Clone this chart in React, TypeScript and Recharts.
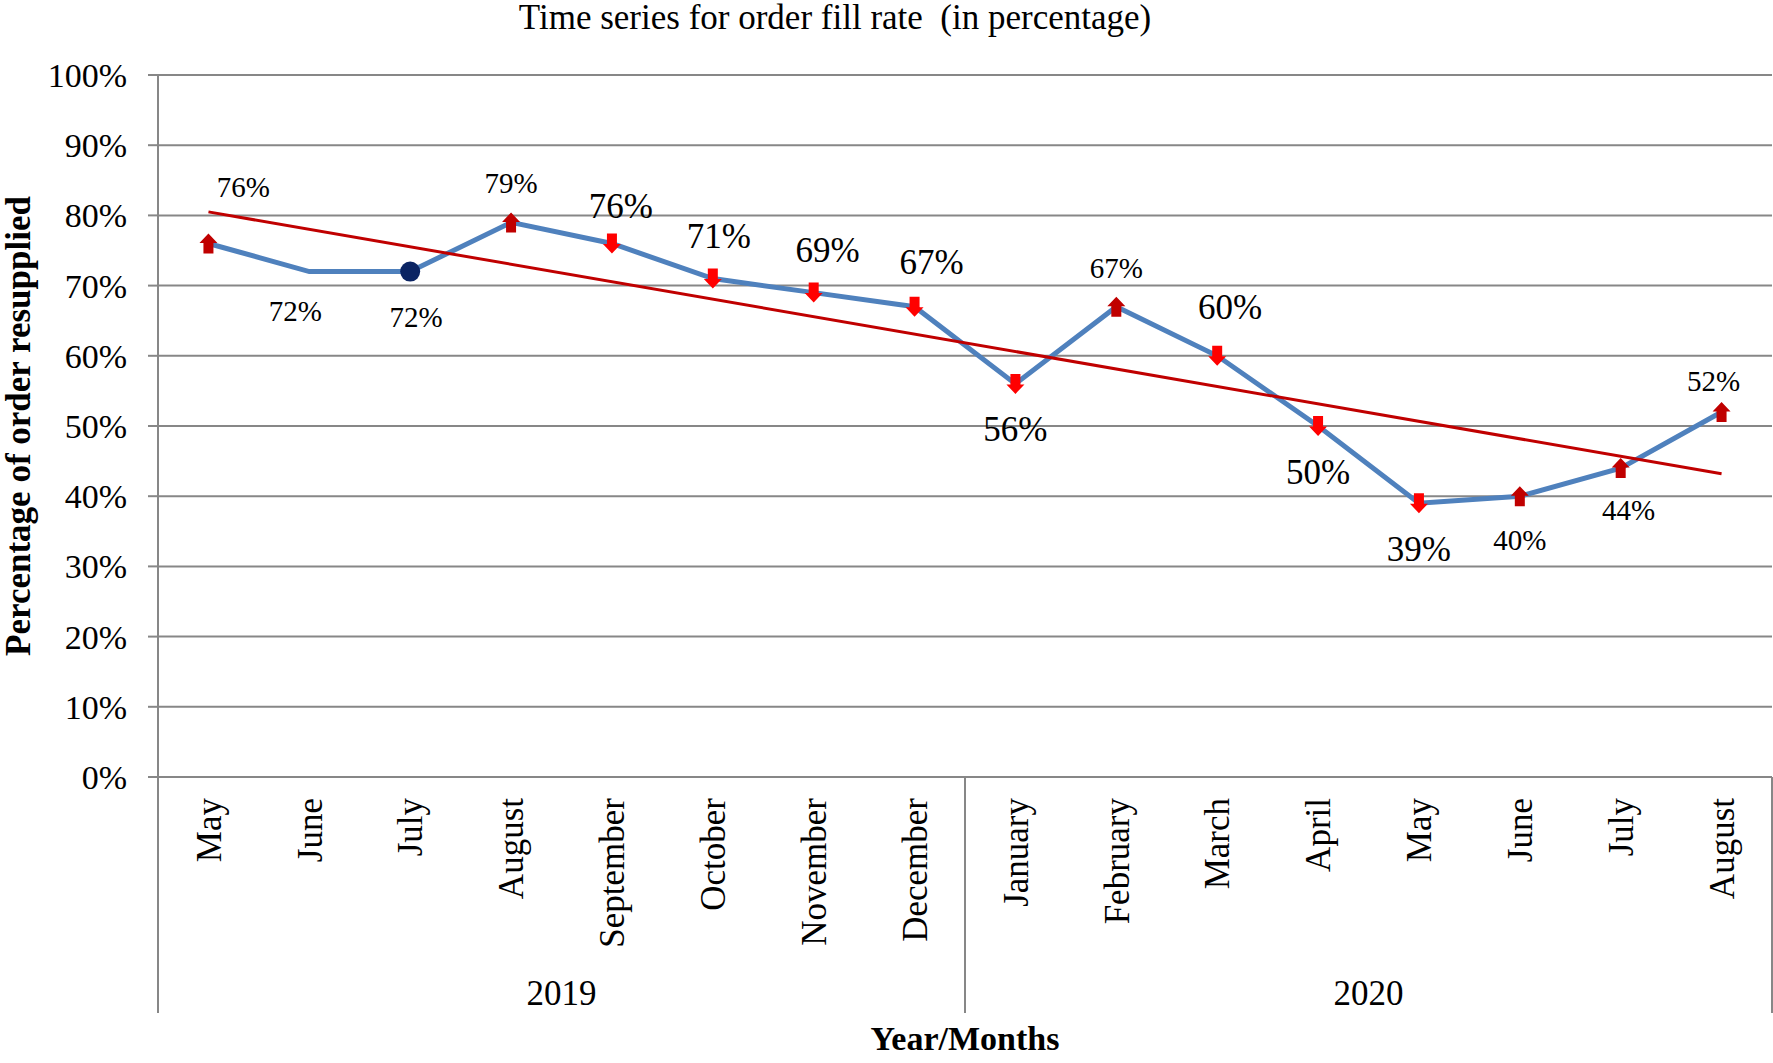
import { LineChart, Line, XAxis, YAxis, CartesianGrid } from "recharts";

const MONTHS = [
  "May", "June", "July", "August", "September", "October", "November", "December",
  "January", "February", "March", "April", "May", "June", "July", "August",
];
const YEARS = [
  "2019", "2019", "2019", "2019", "2019", "2019", "2019", "2019",
  "2020", "2020", "2020", "2020", "2020", "2020", "2020", "2020",
];
// order fill rate, %
const FILL_RATE = [76, 72, 72, 79, 76, 71, 69, 67, 56, 67, 60, 50, 39, 40, 44, 52];
// linear trend, read at its two ends
const TREND: (number | null)[] = [
  80.5, null, null, null, null, null, null, null,
  null, null, null, null, null, null, null, 43.2,
];
const Y_TICKS = [0, 10, 20, 30, 40, 50, 60, 70, 80, 90, 100];

const data = MONTHS.map((month, i) => ({
  month,
  year: YEARS[i],
  rate: FILL_RATE[i],
  trend: TREND[i],
}));

// layout
const W = 1773;
const H = 1063;
const LEFT = 158;
const RIGHT = 1;
const TOP = 75;
const X_AXIS_H = 286;
const BAND = (W - LEFT - RIGHT) / MONTHS.length;
const PLOT_BOTTOM = H - X_AXIS_H;
const DIVIDER_BOTTOM = 1013;
const SERIF = '"Liberation Serif", "Times New Roman", Times, serif';
const GRID = "#878787";

// marker style per point and where each value label sits
type Marker = "up" | "down" | "circle" | "none";
const MARKERS: Marker[] = [
  "up", "none", "circle", "up", "down", "down", "down", "down",
  "down", "up", "down", "down", "down", "up", "up", "up",
];
const LABELS = [
  { dx: 35, dy: -56, big: false },
  { dx: -14, dy: 40, big: false },
  { dx: 6, dy: 46, big: false },
  { dx: 0, dy: -39, big: false },
  { dx: 9, dy: -37, big: true },
  { dx: 6, dy: -42, big: true },
  { dx: 14, dy: -42, big: true },
  { dx: 17, dy: -44, big: true },
  { dx: 0, dy: 46, big: true },
  { dx: 0, dy: -38, big: false },
  { dx: 13, dy: -48, big: true },
  { dx: 0, dy: 46, big: true },
  { dx: 0, dy: 46, big: true },
  { dx: 0, dy: 44, big: false },
  { dx: 8, dy: 42, big: false },
  { dx: -8, dy: -31, big: false },
];

function arrow(cx: number, cy: number, dir: 1 | -1) {
  // dir 1 = pointing up
  const hw = 9, sw = 5, h = 10, neck = 0.5 * dir;
  const tip = cy - h * dir;
  const tail = cy + h * dir;
  return [
    [cx, tip],
    [cx + hw, cy - neck],
    [cx + sw, cy - neck],
    [cx + sw, tail],
    [cx - sw, tail],
    [cx - sw, cy - neck],
    [cx - hw, cy - neck],
  ]
    .map((p) => p.join(","))
    .join(" ");
}

function PointMarker(props: any) {
  const { cx, cy, index } = props;
  if (cx == null || cy == null) return <g />;
  const kind = MARKERS[index];
  const lab = LABELS[index];
  return (
    <g>
      {kind === "up" && <polygon points={arrow(cx, cy, 1)} fill="#C00000" />}
      {kind === "down" && <polygon points={arrow(cx, cy, -1)} fill="#FF0000" />}
      {kind === "circle" && <circle cx={cx} cy={cy} r={10} fill="#0B2463" />}
      <text
        x={cx + lab.dx}
        y={cy + lab.dy}
        dy="0.33em"
        textAnchor="middle"
        fontFamily={SERIF}
        fontSize={lab.big ? 35 : 29}
        fill="#000"
      >
        {`${FILL_RATE[index]}%`}
      </text>
    </g>
  );
}

function MonthTick(props: any) {
  const { x, y, index, payload } = props;
  const year = YEARS[index];
  let start = index;
  while (start > 0 && YEARS[start - 1] === year) start--;
  let end = index;
  while (end < YEARS.length - 1 && YEARS[end + 1] === year) end++;
  const mid = Math.floor((start + end) / 2);
  const lineStyle = { stroke: GRID, strokeWidth: 2 };
  return (
    <g>
      <text
        x={x}
        y={y}
        dy="0.35em"
        transform={`rotate(-90, ${x}, ${y})`}
        textAnchor="end"
        fontFamily={SERIF}
        fontSize={35}
        fill="#000"
      >
        {payload.value}
      </text>
      {index === 0 && (
        <line x1={x - BAND / 2} x2={x - BAND / 2} y1={PLOT_BOTTOM} y2={DIVIDER_BOTTOM} {...lineStyle} />
      )}
      {index === end && (
        <line x1={x + BAND / 2} x2={x + BAND / 2} y1={PLOT_BOTTOM} y2={DIVIDER_BOTTOM} {...lineStyle} />
      )}
      {index === mid && (
        <text
          x={x + ((start + end) / 2 - index) * BAND}
          y={1005}
          textAnchor="middle"
          fontFamily={SERIF}
          fontSize={35}
          fill="#000"
        >
          {year}
        </text>
      )}
    </g>
  );
}

export default function App() {
  return (
    <div style={{ position: "absolute", left: 0, top: 0, width: W, height: H, background: "#fff" }}>
      <div
        style={{
          position: "absolute",
          left: 0,
          top: 0,
          width: 1670,
          textAlign: "center",
          fontFamily: SERIF,
          fontSize: 35,
          lineHeight: "35px",
          color: "#000",
        }}
      >
        Time series for order fill rate&nbsp; (in percentage)
      </div>
      <LineChart
        width={W}
        height={H}
        data={data}
        margin={{ top: TOP, right: RIGHT, bottom: 0, left: 0 }}
      >
        <CartesianGrid vertical={false} stroke={GRID} strokeWidth={2} />
        <XAxis
          dataKey="month"
          padding={{ left: BAND / 2, right: BAND / 2 }}
          height={X_AXIS_H}
          interval={0}
          tickLine={false}
          tickSize={0}
          tickMargin={21}
          axisLine={{ stroke: GRID, strokeWidth: 2 }}
          tick={MonthTick}
          label={{
            content: () => (
              <text
                x={LEFT + (W - LEFT - RIGHT) / 2}
                y={1050}
                textAnchor="middle"
                fontFamily={SERIF}
                fontSize={34}
                fontWeight="bold"
                fill="#000"
              >
                Year/Months
              </text>
            ),
          }}
        />
        <YAxis
          domain={[0, 100]}
          ticks={Y_TICKS}
          interval={0}
          width={LEFT}
          tickSize={10}
          tickMargin={21}
          tickFormatter={(v) => `${v}%`}
          tick={{ fill: "#000", fontSize: 34, fontFamily: SERIF }}
          tickLine={{ stroke: GRID, strokeWidth: 2 }}
          axisLine={{ stroke: GRID, strokeWidth: 2 }}
          label={{
            content: () => (
              <text
                x={18}
                y={TOP + (PLOT_BOTTOM - TOP) / 2}
                dy="0.35em"
                transform={`rotate(-90, 18, ${TOP + (PLOT_BOTTOM - TOP) / 2})`}
                textAnchor="middle"
                fontFamily={SERIF}
                fontSize={35}
                fontWeight="bold"
                fill="#000"
              >
                Percentage of order resupplied
              </text>
            ),
          }}
        />
        <Line
          dataKey="rate"
          type="linear"
          stroke="#4F81BD"
          strokeWidth={5}
          dot={(p: any) => <PointMarker key={`m-${p.index}`} {...p} />}
          activeDot={false}
          isAnimationActive={false}
        />
        <Line
          dataKey="trend"
          type="linear"
          stroke="#C00000"
          strokeWidth={3}
          dot={false}
          activeDot={false}
          connectNulls
          isAnimationActive={false}
        />
      </LineChart>
    </div>
  );
}
